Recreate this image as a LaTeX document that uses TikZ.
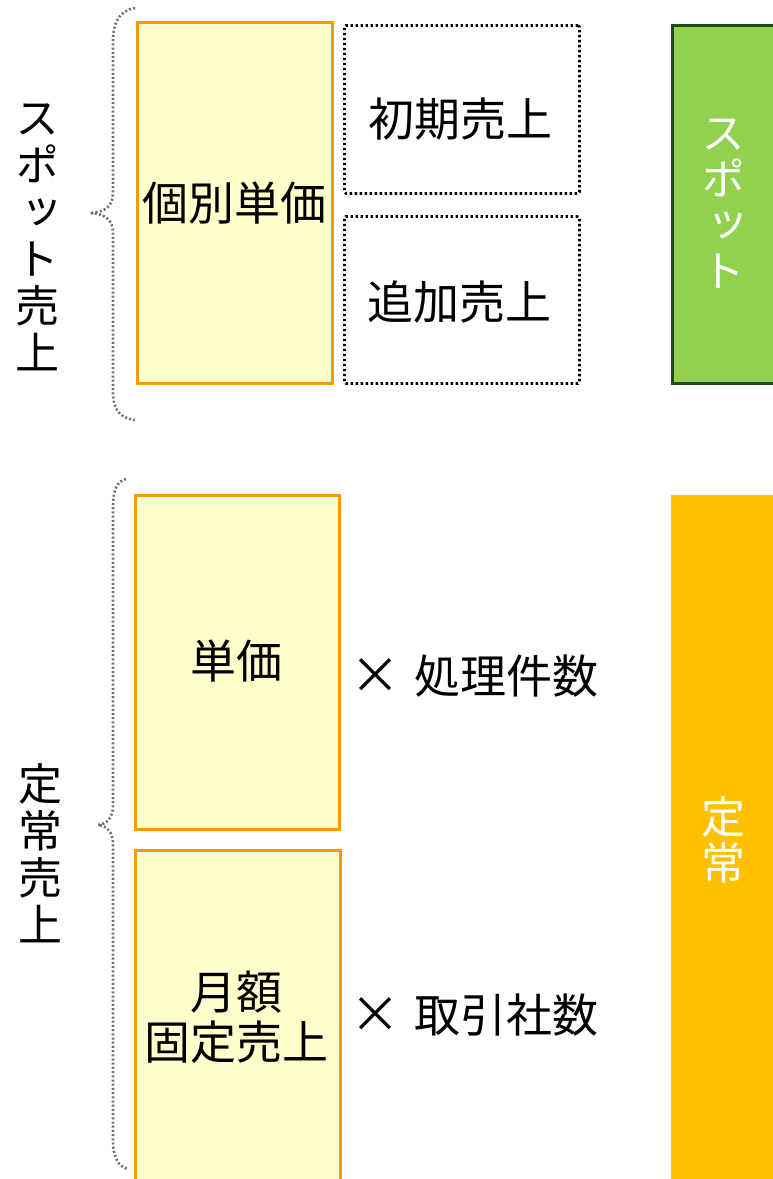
\documentclass[tikz,border=0pt]{standalone}
\usepackage{fontspec}
\newfontfamily\jp{Noto Sans CJK JP}
\newfontfamily\jpv[RawFeature=+vert]{Noto Sans CJK JP}
\definecolor{lightyel}{HTML}{FFFFCC}
\definecolor{orgline}{HTML}{FF9900}
\definecolor{spotgreen}{HTML}{92D050}
\definecolor{darkgreen}{HTML}{1F4A12}
\definecolor{teiorange}{HTML}{FFC000}
\definecolor{bracegray}{HTML}{6F6F6F}
\tikzset{
  ybox/.style={draw=orgline, fill=lightyel, line width=2.5pt, inner sep=0pt, anchor=north west},
  dbox/.style={draw=black, line width=2.8pt, dash pattern=on 2.4pt off 2.6pt, rounded corners=1.5pt, inner sep=0pt, anchor=north west},
  colbox/.style={inner sep=0pt, anchor=north west},
  gbrace/.style={draw=bracegray, line width=2.6pt, dash pattern=on 2pt off 2.2pt},
  jtext/.style={font=\jp\fontsize{46}{50}\selectfont, inner sep=0pt, align=center},
  vtext/.style={font=\jpv\fontsize{44}{47}\selectfont, inner sep=0pt, align=center},
  wtext/.style={font=\jpv\fontsize{44}{46}\selectfont, inner sep=0pt, align=center, text=white},
}
\begin{document}
\begin{tikzpicture}[x=1pt,y=-1pt]
\useasboundingbox (0,0) rectangle (772,1179);
\fill[white] (0,0) rectangle (772,1179);

% ---- spot section ----
\node[ybox, minimum width=195pt, minimum height=361pt] (kobetsu) at (136,21) {};
\node[jtext] (kobetsuT) at (234,203) {個別単価};
\node[dbox, minimum width=235pt, minimum height=168pt] (shoki) at (343,24) {};
\node[jtext] (shokiT) at (460,119) {初期売上};
\node[dbox, minimum width=235pt, minimum height=167pt] (tsuika) at (343,215) {};
\node[jtext] (tsuikaT) at (459,302) {追加売上};
\node[colbox, fill=spotgreen, draw=darkgreen, line width=2.5pt, minimum width=110pt, minimum height=358pt] (spotbar) at (671,24) {};
\node[wtext] (spotbarT) at (723,204) {ス\\ポ\\ッ\\ト};
\node[vtext] (spotlabel) at (38,237) {ス\\ポ\\ッ\\ト\\売\\上};

\coordinate (b1top) at (135,8);
\coordinate (b1tip) at (90,213);
\coordinate (b1bot) at (135,420);
\draw[gbrace] (b1top) .. controls (119,11) and (113,22) .. (113,42) -- (113,192)
  .. controls (113,206) and (106,212) .. (b1tip)
  .. controls (106,214) and (113,220) .. (113,234) -- (113,392)
  .. controls (113,410) and (120,418) .. (b1bot);

% ---- regular section ----
\node[ybox, minimum width=204pt, minimum height=334pt] (tanka) at (134,494) {};
\node[jtext] (tankaT) at (236,661) {単価};
\node[ybox, minimum width=205pt, minimum height=340pt] (getsugaku) at (134,849) {};
\node[jtext] (getsugakuT) at (236,1017) {月額\\固定売上};
\node[jtext, anchor=west] (shori) at (350,676) {{\fontsize{50}{50}\selectfont ×}\hspace{14pt}処理件数};
\node[jtext, anchor=west] (torihiki) at (350,1015) {{\fontsize{50}{50}\selectfont ×}\hspace{14pt}取引社数};
\node[colbox, fill=teiorange, minimum width=110pt, minimum height=690pt] (teibar) at (671,495) {};
\node[wtext] (teibarT) at (723,840) {定\\常};
\node[vtext] (teilabel) at (41,853) {定\\常\\売\\上};

\coordinate (b2top) at (126,479);
\coordinate (b2tip) at (98,825);
\coordinate (b2bot) at (128,1169);
\draw[gbrace] (b2top) .. controls (117,481) and (113,490) .. (113,508) -- (113,805)
  .. controls (113,818) and (107,824) .. (b2tip)
  .. controls (107,826) and (113,832) .. (113,845) -- (113,1140)
  .. controls (113,1158) and (119,1167) .. (b2bot);
\end{tikzpicture}
\end{document}
